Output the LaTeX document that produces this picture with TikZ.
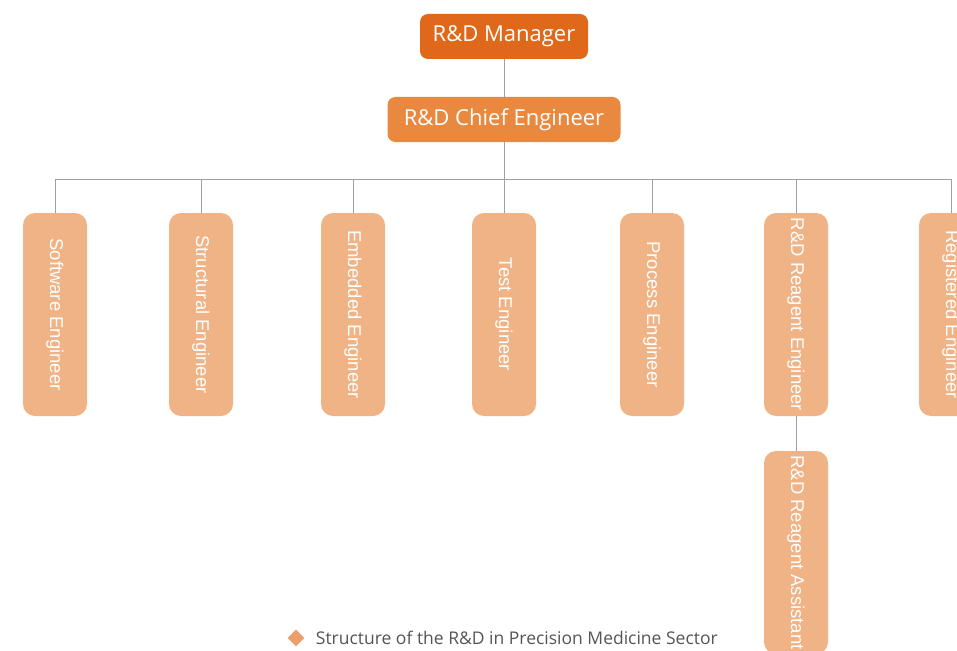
\documentclass[tikz,border=0pt]{standalone}
\usepackage{fontspec}
\setmainfont{Open Sans}
\newfontfamily\postfont{Liberation Sans}
\usetikzlibrary{positioning,shapes.geometric}
\definecolor{mgrorange}{HTML}{E0681A}
\definecolor{chieforange}{HTML}{E8893F}
\definecolor{postorange}{HTML}{F0B386}
\definecolor{linegray}{HTML}{A0A0A0}
\definecolor{legendgray}{HTML}{555555}
\definecolor{markorange}{HTML}{EBA06C}
\begin{document}
\begin{tikzpicture}[x=1pt, y=-1pt,
    head/.style={rounded corners=8pt, minimum height=45pt, inner sep=0pt,
        text=white, font=\fontsize{22}{26}\selectfont},
    post/.style={fill=postorange, rounded corners=12pt, rotate=-90,
        minimum width=203pt, minimum height=64pt, inner sep=0pt,
        text=white, font=\postfont\fontsize{18.5}{20}\selectfont},
    link/.style={draw=linegray, line width=1pt}]
    \useasboundingbox (0,0) rectangle (957,650);
    % Heads
    \node[head, fill=mgrorange, minimum width=168pt] (mgr) at (504,36.5) {R\&D Manager};
    \node[head, fill=chieforange, minimum width=233pt] (chief) at (504,119.5) {R\&D Chief Engineer};
    \draw[link] (mgr) -- (chief);
    % Engineers
    \foreach \name/\x/\txt in {sw/55/Software Engineer, st/201/Structural Engineer,
        emb/353/Embedded Engineer, test/504/Test Engineer, proc/652/Process Engineer,
        rre/796/R\&D Reagent Engineer, reg/951/Registered Engineer}
        \node[post] (\name) at (\x,314.5) {\txt};
    \node[post] (asst) at (796,552.5) {R\&D Reagent Assistant};
    % Connectors
    \coordinate (bus) at (504,179);
    \draw[link] (chief) -- (bus);
    \draw[link] (sw |- bus) -- (reg |- bus);
    \foreach \name in {sw,st,emb,test,proc,rre,reg}
        \draw[link] (\name |- bus) -- (\name);
    \draw[link] (rre) -- (asst);
    % Legend
    \node[diamond, fill=markorange, minimum size=17pt, inner sep=0pt] (mark) at (296,638) {};
    \node[right=11pt of mark, inner sep=0pt, text=legendgray, font=\fontsize{17.5}{20}\selectfont] (legend) {Structure of the R\&D in Precision Medicine Sector};
\end{tikzpicture}
\end{document}
